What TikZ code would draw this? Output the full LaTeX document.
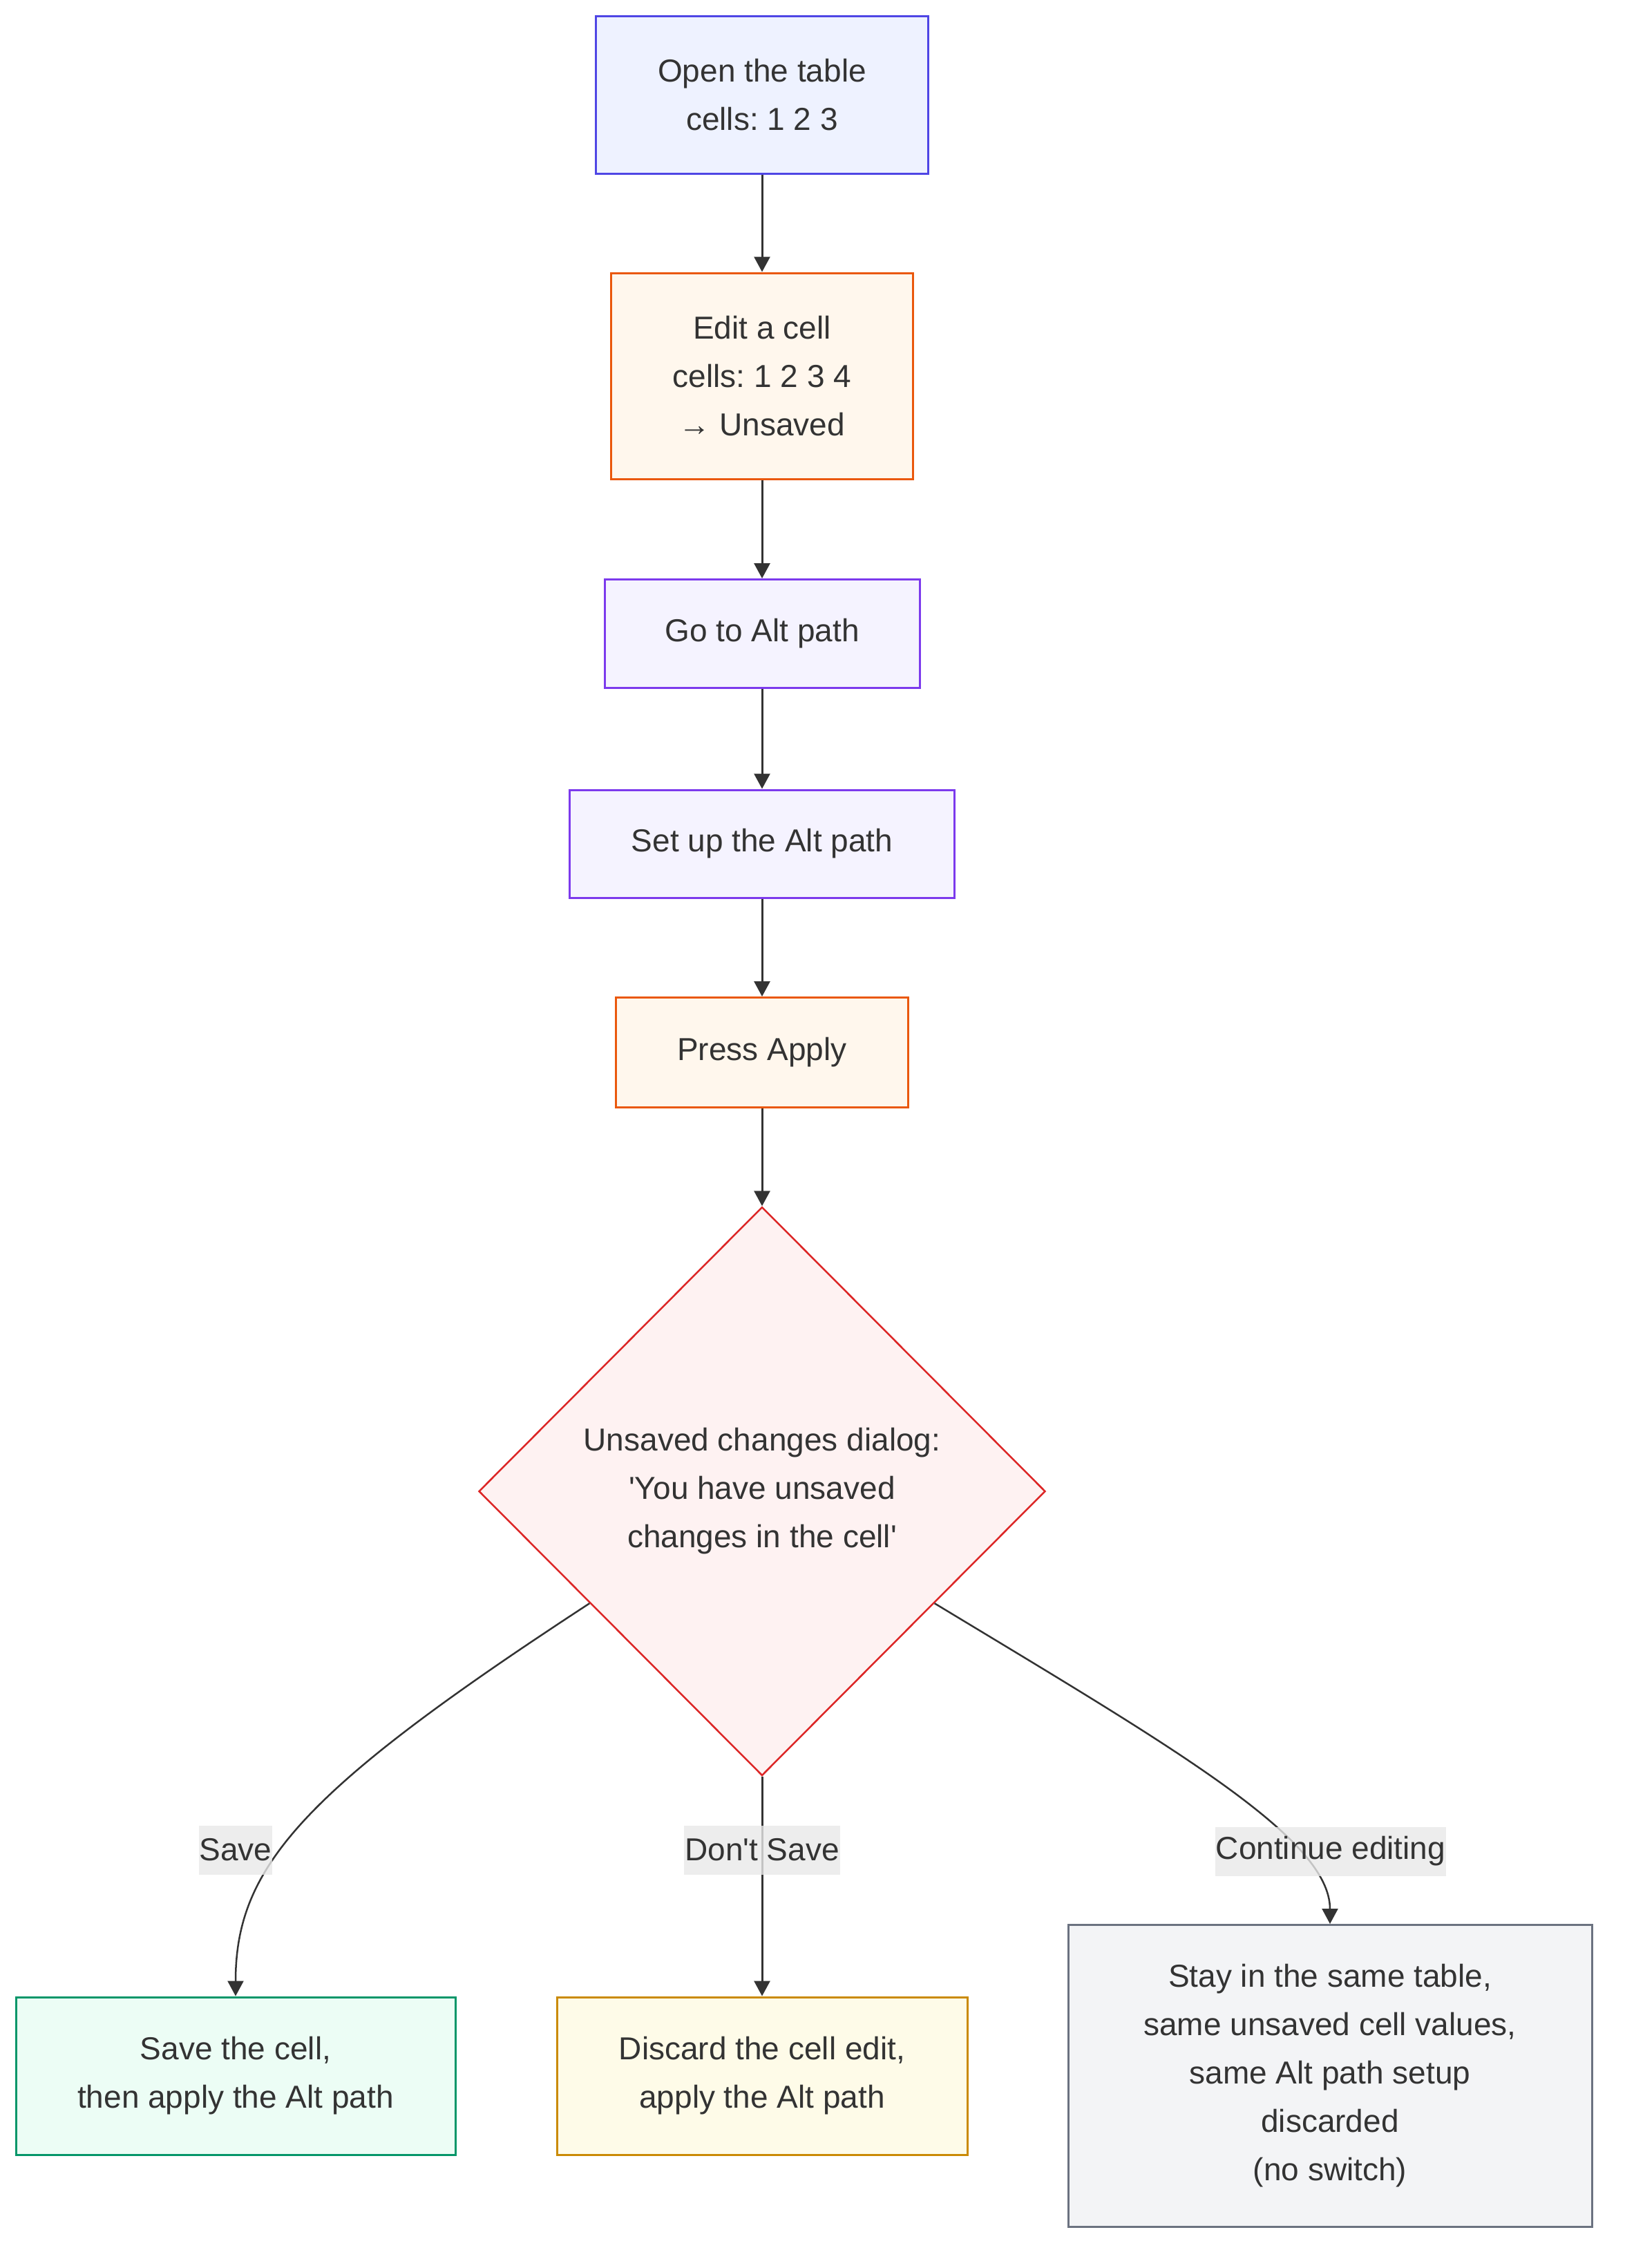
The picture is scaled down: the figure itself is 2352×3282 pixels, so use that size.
\documentclass[tikz,border=0pt]{standalone}
\usepackage{fontspec}
\setmainfont{Liberation Sans}
\usetikzlibrary{shapes.geometric,arrows.meta}
\definecolor{txt}{HTML}{333333}
\definecolor{edgec}{HTML}{333333}
\definecolor{lblbg}{HTML}{E8E8E8}
\definecolor{f1}{HTML}{EEF2FF}\definecolor{s1}{HTML}{4F46E5}
\definecolor{f2}{HTML}{FFF7ED}\definecolor{s2}{HTML}{EA580C}
\definecolor{f3}{HTML}{F5F3FF}\definecolor{s3}{HTML}{7C3AED}
\definecolor{fd}{HTML}{FEF2F2}\definecolor{sd}{HTML}{DC2626}
\definecolor{fg}{HTML}{ECFDF5}\definecolor{sg}{HTML}{059669}
\definecolor{fy}{HTML}{FEFBE8}\definecolor{sy}{HTML}{CA8A04}
\definecolor{fs}{HTML}{F3F4F6}\definecolor{ss}{HTML}{6B7280}
\tikzset{
  lab/.style={font=\fontsize{46}{70}\selectfont\frenchspacing, text=txt, align=center, inner sep=0pt},
  box/.style={lab, draw, line width=3pt, rectangle},
  arr/.style={-{Triangle[length=22pt,width=23pt]}, line width=3pt, draw=edgec},
  carr/.style={-{Triangle[length=22pt,width=23pt]}, line width=2.5pt, draw=edgec},
  elab/.style={lab, fill=lblbg, fill opacity=0.8, text opacity=1, minimum height=71pt, inner xsep=1pt}
}
\begin{document}
\begin{tikzpicture}[x=1pt,y=-1pt]
\useasboundingbox (0,0) rectangle (2352,3282);
\node[box, fill=f1, draw=s1, minimum width=481pt, minimum height=228pt] (n1) at (1103,137) {Open the table\\cells: 1 2 3};
\node[box, fill=f2, draw=s2, minimum width=437pt, minimum height=298pt] (n2) at (1103,544) {Edit a cell\\cells: 1 2 3 4\\→ Unsaved};
\node[box, fill=f3, draw=s3, minimum width=456pt, minimum height=157pt] (n3) at (1103,917) {Go to Alt path};
\node[box, fill=f3, draw=s3, minimum width=557pt, minimum height=156pt] (n4) at (1103,1221) {Set up the Alt path};
\node[box, fill=f2, draw=s2, minimum width=423pt, minimum height=159pt] (n5) at (1103,1523) {Press Apply};
\node[lab, diamond, draw=sd, fill=fd, line width=2.5pt, minimum width=820pt, minimum height=823pt] (d) at (1103,2158) {Unsaved changes dialog:\\\textquotesingle You have unsaved\\changes in the cell\textquotesingle};
\node[box, fill=fg, draw=sg, minimum width=636pt, minimum height=228pt] (sv) at (341,3004) {Save the cell,\\then apply the Alt path};
\node[box, fill=fy, draw=sy, minimum width=594pt, minimum height=228pt] (ds) at (1103,3004) {Discard the cell edit,\\apply the Alt path};
\node[box, fill=fs, draw=ss, minimum width=758pt, minimum height=437pt] (st) at (1925,3004) {Stay in the same table,\\same unsaved cell values,\\same Alt path setup\\discarded\\(no switch)};
\draw[arr] (n1) -- (n2);
\draw[arr] (n2) -- (n3);
\draw[arr] (n3) -- (n4);
\draw[arr] (n4) -- (n5);
\draw[arr] (n5) -- (d.north);
\draw[carr] (d.213.7) .. controls (440,2590) and (341,2700) .. (sv.north);
\draw[arr] (d.south) -- (ds.north);
\draw[carr] (d.327.8) .. controls (1700,2530) and (1925,2660) .. (st.north);
\node[elab] (l1) at (341,2677) {Save};
\node[elab] (l2) at (1103,2677) {Don\textquotesingle t Save};
\node[elab] (l3) at (1926,2679) {Continue editing};
\end{tikzpicture}
\end{document}
